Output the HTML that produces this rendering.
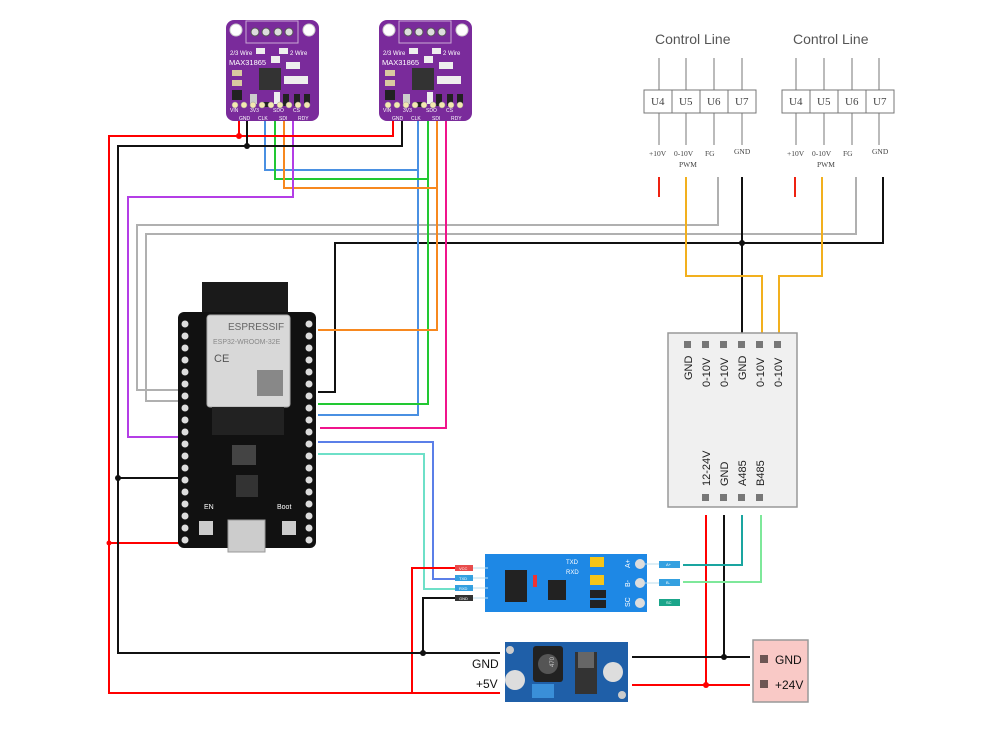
<!DOCTYPE html>
<html><head><meta charset="utf-8"><style>
html,body{margin:0;padding:0;background:#fff;}
svg{display:block;font-family:"Liberation Sans",sans-serif;}
</style></head><body>
<svg width="1000" height="738" viewBox="0 0 1000 738" xmlns="http://www.w3.org/2000/svg">
<rect width="1000" height="738" fill="#fff"/>

<!-- MAX31865 boards -->
<g id="max1" transform="translate(226,20)">
 <rect x="0" y="0" width="93" height="101" rx="8" fill="#7a2b9b"/>
 <circle cx="10" cy="10" r="6" fill="#fff" stroke="#ccc"/><circle cx="83" cy="10" r="6" fill="#fff" stroke="#ccc"/>
 <rect x="20" y="1" width="52" height="22" fill="none" stroke="#c9a9d6"/>
 <circle cx="29" cy="12" r="4" fill="#ddd" stroke="#555"/><circle cx="40" cy="12" r="4" fill="#ddd" stroke="#555"/>
 <circle cx="52" cy="12" r="4" fill="#ddd" stroke="#555"/><circle cx="63" cy="12" r="4" fill="#ddd" stroke="#555"/>
 <text x="4" y="35" font-size="6" fill="#fff">2/3 Wire</text><text x="64" y="35" font-size="6" fill="#fff">2 Wire</text>
 <rect x="30" y="28" width="9" height="6" fill="#eee"/><rect x="53" y="28" width="9" height="6" fill="#eee"/>
 <text x="3" y="45" font-size="7.5" fill="#fff">MAX31865</text>
 <rect x="45" y="36" width="9" height="7" fill="#eee"/><rect x="60" y="42" width="14" height="7" fill="#eee"/>
 <rect x="33" y="48" width="22" height="22" fill="#333"/>
 <rect x="58" y="56" width="24" height="8" fill="#eee"/>
 <rect x="6" y="50" width="10" height="6" fill="#d9c9a0"/><rect x="6" y="60" width="10" height="6" fill="#d9c9a0"/>
 <rect x="6" y="70" width="10" height="10" fill="#222"/>
 <rect x="24" y="74" width="7" height="10" fill="#ccc"/><rect x="35" y="82" width="10" height="5" fill="#222"/>
 <rect x="48" y="72" width="6" height="12" fill="#eee"/><rect x="57" y="74" width="6" height="12" fill="#222"/>
 <rect x="68" y="74" width="6" height="12" fill="#222"/><rect x="78" y="74" width="6" height="12" fill="#222"/>
 <g font-size="5" fill="#fff"><text x="4" y="92">VIN</text><text x="24" y="92">3V3</text><text x="47" y="92">SDO</text><text x="67" y="92">CS</text>
 <text x="13" y="100">GND</text><text x="32" y="100">CLK</text><text x="53" y="100">SDI</text><text x="72" y="100">RDY</text></g>
 <g fill="#f4e8b0" stroke="#999" stroke-width=".5"><circle cx="9" cy="85" r="3"/><circle cx="18" cy="85" r="3"/><circle cx="27" cy="85" r="3"/><circle cx="36" cy="85" r="3"/><circle cx="45" cy="85" r="3"/><circle cx="54" cy="85" r="3"/><circle cx="63" cy="85" r="3"/><circle cx="72" cy="85" r="3"/><circle cx="81" cy="85" r="3"/></g>
</g>
<g transform="translate(379,20)">
 <rect x="0" y="0" width="93" height="101" rx="8" fill="#7a2b9b"/>
 <circle cx="10" cy="10" r="6" fill="#fff" stroke="#ccc"/><circle cx="83" cy="10" r="6" fill="#fff" stroke="#ccc"/>
 <rect x="20" y="1" width="52" height="22" fill="none" stroke="#c9a9d6"/>
 <circle cx="29" cy="12" r="4" fill="#ddd" stroke="#555"/><circle cx="40" cy="12" r="4" fill="#ddd" stroke="#555"/>
 <circle cx="52" cy="12" r="4" fill="#ddd" stroke="#555"/><circle cx="63" cy="12" r="4" fill="#ddd" stroke="#555"/>
 <text x="4" y="35" font-size="6" fill="#fff">2/3 Wire</text><text x="64" y="35" font-size="6" fill="#fff">2 Wire</text>
 <rect x="30" y="28" width="9" height="6" fill="#eee"/><rect x="53" y="28" width="9" height="6" fill="#eee"/>
 <text x="3" y="45" font-size="7.5" fill="#fff">MAX31865</text>
 <rect x="45" y="36" width="9" height="7" fill="#eee"/><rect x="60" y="42" width="14" height="7" fill="#eee"/>
 <rect x="33" y="48" width="22" height="22" fill="#333"/>
 <rect x="58" y="56" width="24" height="8" fill="#eee"/>
 <rect x="6" y="50" width="10" height="6" fill="#d9c9a0"/><rect x="6" y="60" width="10" height="6" fill="#d9c9a0"/>
 <rect x="6" y="70" width="10" height="10" fill="#222"/>
 <rect x="24" y="74" width="7" height="10" fill="#ccc"/><rect x="35" y="82" width="10" height="5" fill="#222"/>
 <rect x="48" y="72" width="6" height="12" fill="#eee"/><rect x="57" y="74" width="6" height="12" fill="#222"/>
 <rect x="68" y="74" width="6" height="12" fill="#222"/><rect x="78" y="74" width="6" height="12" fill="#222"/>
 <g font-size="5" fill="#fff"><text x="4" y="92">VIN</text><text x="24" y="92">3V3</text><text x="47" y="92">SDO</text><text x="67" y="92">CS</text>
 <text x="13" y="100">GND</text><text x="32" y="100">CLK</text><text x="53" y="100">SDI</text><text x="72" y="100">RDY</text></g>
 <g fill="#f4e8b0" stroke="#999" stroke-width=".5"><circle cx="9" cy="85" r="3"/><circle cx="18" cy="85" r="3"/><circle cx="27" cy="85" r="3"/><circle cx="36" cy="85" r="3"/><circle cx="45" cy="85" r="3"/><circle cx="54" cy="85" r="3"/><circle cx="63" cy="85" r="3"/><circle cx="72" cy="85" r="3"/><circle cx="81" cy="85" r="3"/></g>
</g>

<!-- Wires -->
<g fill="none" stroke-width="2">
 <!-- grays -->
 <polyline stroke="#b0b0b0" points="718,177 718,225 137,225 137,390 182,390"/>
 <polyline stroke="#b0b0b0" points="856,177 856,234 146,234 146,401 182,401"/>
 <!-- black control gnd -->
 <polyline stroke="#111" points="883,177 883,243 335,243 335,392 318,392"/>
 <line stroke="#111" x1="742" y1="177" x2="742" y2="335"/>
 <!-- yellow -->
 <polyline stroke="#f2b01e" points="686,177 686,276 762,276 762,335"/>
 <polyline stroke="#f2b01e" points="822,177 822,276 779,276 779,335"/>
 <line stroke="#e21" x1="659" y1="177" x2="659" y2="197"/>
 <line stroke="#e21" x1="795" y1="177" x2="795" y2="197"/>
 <!-- SPI -->
 <polyline stroke="#4a90e2" points="265,121 265,170 418,170"/>
 <polyline stroke="#4a90e2" points="418,121 418,415 318,415"/>
 <polyline stroke="#22c832" points="275,121 275,179 428,179"/>
 <polyline stroke="#22c832" points="428,121 428,404 318,404"/>
 <polyline stroke="#f7881f" points="284,121 284,188 437,188"/>
 <polyline stroke="#f7881f" points="437,121 437,330 318,330"/>
 <polyline stroke="#b43ee6" points="293,121 293,197 128,197 128,437 182,437"/>
 <polyline stroke="#f0148c" points="446,121 446,428 320,428"/>
 <polyline stroke="#5b7fe8" points="318,442 433,442 433,579 460,579"/>
 <polyline stroke="#6ee0c8" points="318,454 424,454 424,589 460,589"/>
 <!-- power red -->
 <polyline stroke="#f00" points="239,121 239,136"/>
 <polyline stroke="#f00" points="393,121 393,136 109,136 109,693 500,693"/>
 <polyline stroke="#f00" points="109,543 180,543"/>
 <polyline stroke="#f00" points="412,693 412,568 460,568"/>
 <polyline stroke="#f00" points="632,685 750,685"/>
 <polyline stroke="#f00" points="706,515 706,685"/>
 <!-- black gnd -->
 <polyline stroke="#111" points="247,121 247,146"/>
 <polyline stroke="#111" points="402,121 402,146 118,146 118,653 500,653"/>
 <polyline stroke="#111" points="118,478 182,478"/>
 <polyline stroke="#111" points="423,653 423,598 460,598"/>
 <polyline stroke="#111" points="632,657 750,657"/>
 <polyline stroke="#111" points="724,515 724,657"/>
 <!-- 485 -->
 <polyline stroke="#1aa5a0" points="742,515 742,565 683,565"/>
 <polyline stroke="#7ee89a" points="761,515 761,582 683,582"/>
</g>
<g fill="#111"><circle cx="247" cy="146" r="3"/><circle cx="118" cy="478" r="3"/><circle cx="423" cy="653" r="3"/><circle cx="724" cy="657" r="3"/><circle cx="742" cy="243" r="3"/></g>
<g fill="#f00"><circle cx="239" cy="136" r="3"/><circle cx="706" cy="685" r="3"/><circle cx="109" cy="543" r="2.5"/></g>

<!-- ESP32 -->
<rect x="202" y="282" width="86" height="40" fill="#1a1a1a"/>
<rect x="178" y="312" width="138" height="236" rx="6" fill="#111"/>
<rect x="207" y="315" width="83" height="92" rx="3" fill="#d8d8d8" stroke="#aaa"/>
<text x="228" y="330" font-size="10" fill="#666">ESPRESSIF</text>
<text x="213" y="344" font-size="7" fill="#888">ESP32-WROOM-32E</text>
<text x="214" y="362" font-size="11" fill="#555">CE</text>
<rect x="257" y="370" width="26" height="26" fill="#888"/>
<rect x="212" y="407" width="72" height="28" fill="#222"/>
<rect x="232" y="445" width="24" height="20" fill="#444"/>
<rect x="236" y="475" width="22" height="22" fill="#333"/>
<rect x="228" y="520" width="37" height="32" fill="#ccc" stroke="#999"/>
<rect x="199" y="521" width="14" height="14" fill="#ccc"/><rect x="282" y="521" width="14" height="14" fill="#ccc"/>
<text x="204" y="509" font-size="7" fill="#fff">EN</text><text x="277" y="509" font-size="7" fill="#fff">Boot</text>
<g fill="#ddd">
<circle cx="185" cy="324" r="3.5"/><circle cx="185" cy="336" r="3.5"/><circle cx="185" cy="348" r="3.5"/><circle cx="185" cy="360" r="3.5"/><circle cx="185" cy="372" r="3.5"/><circle cx="185" cy="384" r="3.5"/><circle cx="185" cy="396" r="3.5"/><circle cx="185" cy="408" r="3.5"/><circle cx="185" cy="420" r="3.5"/><circle cx="185" cy="432" r="3.5"/><circle cx="185" cy="444" r="3.5"/><circle cx="185" cy="456" r="3.5"/><circle cx="185" cy="468" r="3.5"/><circle cx="185" cy="480" r="3.5"/><circle cx="185" cy="492" r="3.5"/><circle cx="185" cy="504" r="3.5"/><circle cx="185" cy="516" r="3.5"/><circle cx="185" cy="528" r="3.5"/><circle cx="185" cy="540" r="3.5"/>
<circle cx="309" cy="324" r="3.5"/><circle cx="309" cy="336" r="3.5"/><circle cx="309" cy="348" r="3.5"/><circle cx="309" cy="360" r="3.5"/><circle cx="309" cy="372" r="3.5"/><circle cx="309" cy="384" r="3.5"/><circle cx="309" cy="396" r="3.5"/><circle cx="309" cy="408" r="3.5"/><circle cx="309" cy="420" r="3.5"/><circle cx="309" cy="432" r="3.5"/><circle cx="309" cy="444" r="3.5"/><circle cx="309" cy="456" r="3.5"/><circle cx="309" cy="468" r="3.5"/><circle cx="309" cy="480" r="3.5"/><circle cx="309" cy="492" r="3.5"/><circle cx="309" cy="504" r="3.5"/><circle cx="309" cy="516" r="3.5"/><circle cx="309" cy="528" r="3.5"/><circle cx="309" cy="540" r="3.5"/>
</g>

<!-- Control Lines -->
<g font-family="Liberation Serif,serif" fill="#444">
<text x="655" y="44" font-family="Liberation Sans,sans-serif" font-size="14" fill="#555">Control Line</text>
<text x="793" y="44" font-family="Liberation Sans,sans-serif" font-size="14" fill="#555">Control Line</text>
<g stroke="#777" stroke-width="1">
 <line x1="659" y1="58" x2="659" y2="145"/><line x1="686" y1="58" x2="686" y2="145"/><line x1="714" y1="58" x2="714" y2="145"/><line x1="742" y1="58" x2="742" y2="145"/>
 <line x1="796" y1="58" x2="796" y2="145"/><line x1="824" y1="58" x2="824" y2="145"/><line x1="852" y1="58" x2="852" y2="145"/><line x1="879" y1="58" x2="879" y2="145"/>
 <rect x="644" y="90" width="112" height="23" fill="#fff"/><line x1="672" y1="90" x2="672" y2="113"/><line x1="700" y1="90" x2="700" y2="113"/><line x1="728" y1="90" x2="728" y2="113"/>
 <rect x="782" y="90" width="112" height="23" fill="#fff"/><line x1="810" y1="90" x2="810" y2="113"/><line x1="838" y1="90" x2="838" y2="113"/><line x1="866" y1="90" x2="866" y2="113"/>
</g>
<g font-size="11"><text x="651" y="105">U4</text><text x="679" y="105">U5</text><text x="707" y="105">U6</text><text x="735" y="105">U7</text>
<text x="789" y="105">U4</text><text x="817" y="105">U5</text><text x="845" y="105">U6</text><text x="873" y="105">U7</text></g>
<g font-size="7.5"><text x="649" y="156">+10V</text><text x="674" y="156">0-10V</text><text x="705" y="156">FG</text><text x="734" y="154">GND</text><text x="679" y="167">PWM</text>
<text x="787" y="156">+10V</text><text x="812" y="156">0-10V</text><text x="843" y="156">FG</text><text x="872" y="154">GND</text><text x="817" y="167">PWM</text></g>
</g>

<!-- right module -->
<rect x="668" y="333" width="129" height="174" fill="#f0f0f0" stroke="#999" stroke-width="1.5"/>
<g fill="#777"><rect x="684" y="341" width="7" height="7"/><rect x="702" y="341" width="7" height="7"/><rect x="720" y="341" width="7" height="7"/><rect x="738" y="341" width="7" height="7"/><rect x="756" y="341" width="7" height="7"/><rect x="774" y="341" width="7" height="7"/>
<rect x="702" y="494" width="7" height="7"/><rect x="720" y="494" width="7" height="7"/><rect x="738" y="494" width="7" height="7"/><rect x="756" y="494" width="7" height="7"/></g>
<g font-size="11" fill="#222">
<text transform="translate(692,380) rotate(-90)">GND</text>
<text transform="translate(710,387) rotate(-90)">0-10V</text>
<text transform="translate(728,387) rotate(-90)">0-10V</text>
<text transform="translate(746,380) rotate(-90)">GND</text>
<text transform="translate(764,387) rotate(-90)">0-10V</text>
<text transform="translate(782,387) rotate(-90)">0-10V</text>
<text transform="translate(710,486) rotate(-90)">12-24V</text>
<text transform="translate(728,486) rotate(-90)">GND</text>
<text transform="translate(746,486) rotate(-90)">A485</text>
<text transform="translate(764,486) rotate(-90)">B485</text>
</g>

<!-- RS485 module -->
<rect x="485" y="554" width="162" height="58" fill="#1e88e5"/>
<rect x="505" y="570" width="22" height="32" fill="#222"/><rect x="548" y="580" width="18" height="20" fill="#222"/>
<rect x="533" y="575" width="4" height="12" fill="#e33"/>
<rect x="590" y="557" width="14" height="10" fill="#f5c518"/><rect x="590" y="575" width="14" height="10" fill="#f5c518"/>
<rect x="590" y="590" width="16" height="8" fill="#222"/><rect x="590" y="600" width="16" height="8" fill="#222"/>
<text x="566" y="564" font-size="6" fill="#fff">TXD</text><text x="566" y="574" font-size="6" fill="#fff">RXD</text>
<g fill="#ddd"><circle cx="640" cy="564" r="5"/><circle cx="640" cy="583" r="5"/><circle cx="640" cy="603" r="5"/></g>
<g font-size="7" fill="#fff"><text transform="translate(630,568) rotate(-90)">A+</text><text transform="translate(630,587) rotate(-90)">B-</text><text transform="translate(630,607) rotate(-90)">SC</text></g>
<g font-size="4" fill="#fff">
<rect x="455" y="565" width="18" height="6" fill="#e84c4c"/><text x="459" y="570">VCC</text>
<rect x="455" y="575" width="18" height="6" fill="#34a0e0"/><text x="459" y="580">TXD</text>
<rect x="455" y="585" width="18" height="6" fill="#34a0e0"/><text x="459" y="590">RXD</text>
<rect x="455" y="595" width="18" height="6" fill="#333"/><text x="459" y="600">GND</text>
<rect x="659" y="561" width="21" height="7" fill="#34a0e0"/><text x="666" y="566">A+</text>
<rect x="659" y="579" width="21" height="7" fill="#34a0e0"/><text x="666" y="584">B-</text>
<rect x="659" y="599" width="21" height="7" fill="#1aa58a"/><text x="666" y="604">SC</text>
</g>
<line x1="473" y1="568" x2="488" y2="568" stroke="#bde" /><line x1="473" y1="578" x2="488" y2="578" stroke="#bde"/><line x1="473" y1="588" x2="488" y2="588" stroke="#bde"/><line x1="473" y1="598" x2="488" y2="598" stroke="#bde"/>
<line x1="645" y1="564" x2="659" y2="564" stroke="#bde"/><line x1="645" y1="583" x2="659" y2="583" stroke="#bde"/>

<!-- Buck module -->
<rect x="505" y="642" width="123" height="60" fill="#1f5fa8"/>
<rect x="533" y="646" width="30" height="36" rx="3" fill="#222"/><circle cx="548" cy="664" r="10" fill="#555"/>
<text x="545" y="670" font-size="6" fill="#ccc" transform="rotate(-90 548 664)">470</text>
<rect x="575" y="652" width="22" height="42" fill="#333"/><rect x="578" y="652" width="16" height="16" fill="#666"/>
<circle cx="515" cy="680" r="10" fill="#ddd"/><circle cx="613" cy="672" r="10" fill="#ddd"/>
<rect x="532" y="684" width="22" height="14" fill="#3a8fd8"/>
<circle cx="510" cy="650" r="4" fill="#ccc"/><circle cx="622" cy="695" r="4" fill="#ccc"/>
<text x="472" y="668" font-size="12" fill="#111">GND</text>
<text x="476" y="688" font-size="12" fill="#111">+5V</text>

<!-- power terminal -->
<rect x="753" y="640" width="55" height="62" fill="#f9c9c6" stroke="#999" stroke-width="1.5"/>
<rect x="760" y="655" width="8" height="8" fill="#6d5654"/><rect x="760" y="680" width="8" height="8" fill="#6d5654"/>
<text x="775" y="664" font-size="12" fill="#111">GND</text>
<text x="775" y="689" font-size="12" fill="#111">+24V</text>
</svg>
</body></html>
